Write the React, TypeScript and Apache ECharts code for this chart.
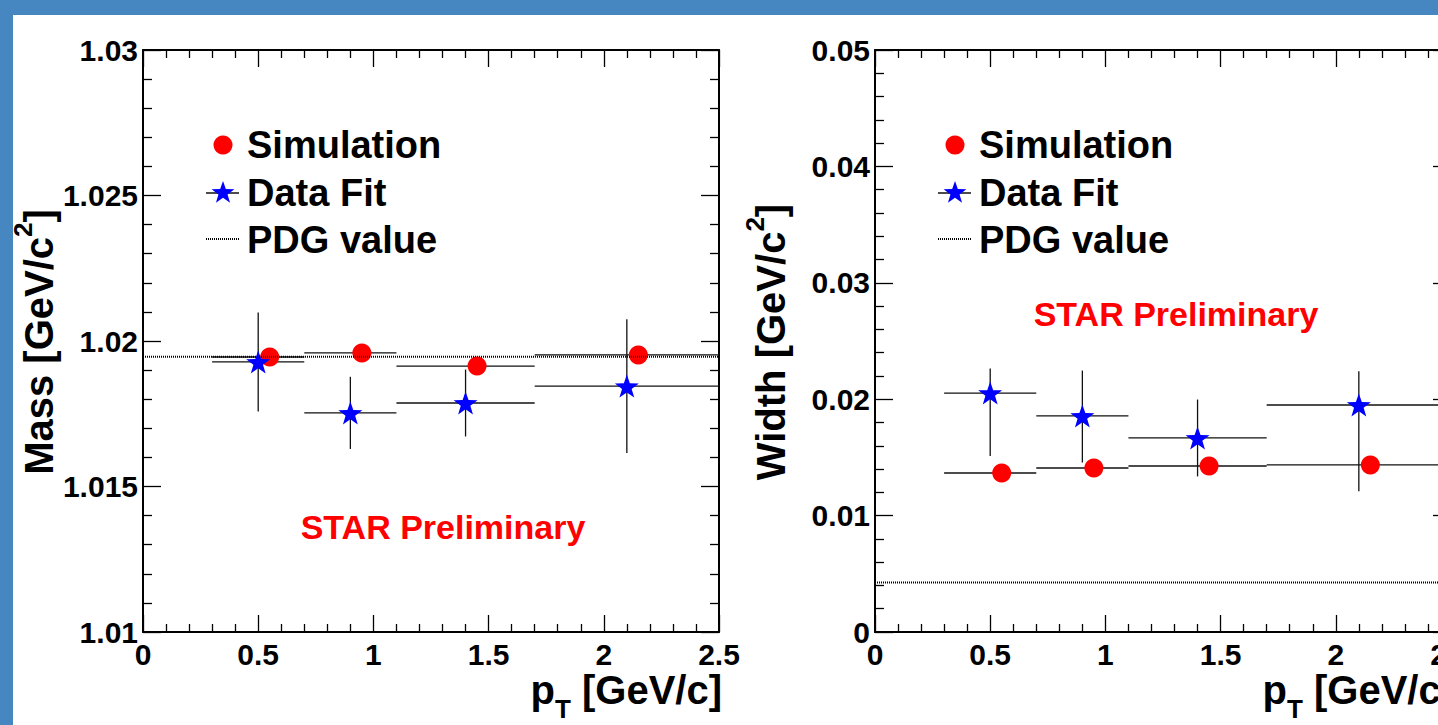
import React, { useEffect, useRef } from 'react';
import * as echarts from 'echarts';

// ---- data ----
const ptBinLow = [0.3, 0.7, 1.1, 1.7];
const ptBinHigh = [0.7, 1.1, 1.7, 2.5];
const ptDataFit = [0.5, 0.9, 1.4, 2.1];
const ptSimulation = [0.55, 0.95, 1.45, 2.15];

const massSimulation = [1.01945, 1.01959, 1.01914, 1.01952];
const massSimulationErr = [0.0001, 0.0001, 0.0001, 0.0003];
const massDataFit = [1.01928, 1.01753, 1.01787, 1.01845];
const massDataFitErrLow = [0.0017, 0.00124, 0.00115, 0.0023];
const massDataFitErrHigh = [0.0017, 0.00124, 0.00115, 0.0023];

const widthSimulation = [0.01366, 0.01409, 0.01426, 0.01435];
const widthSimulationErr = [0.0001, 0.0001, 0.0001, 0.0001];
const widthDataFit = [0.02053, 0.01856, 0.01667, 0.0195];
const widthDataFitErrLow = [0.0054, 0.004, 0.0033, 0.0074];
const widthDataFitErrHigh = [0.0021, 0.0039, 0.0033, 0.0029];

const pdgMass = 1.019461;
const pdgWidth = 0.00426;

const xRange = { min: 0, max: 2.5, step: 0.5 };
const massRange = { min: 1.01, max: 1.03, step: 0.005 };
const widthRange = { min: 0, max: 0.05, step: 0.01 };

const legendLabels = ['Simulation', 'Data Fit', 'PDG value'];
const watermark = 'STAR Preliminary';

// ---- styling ----
const FONT = '"Liberation Sans", Arial, Helvetica, sans-serif';
const BLUE = '#4687c2';
const STAR_PATH =
  'path://M100 0 L123.5 67.6 L195.1 69.1 L138 112.4 L158.8 180.9 L100 140 L41.2 180.9 L62 112.4 L4.9 69.1 L76.5 67.6 Z';

const VIEW_W = 1438;
const VIEW_H = 725;
const CANVAS_W = 1480;
const GRID_W = 576;
const GRID_H = 582;
const GRID_TOP = 50;
const LEFTS = [143, 875];

function starPoints(cx: number, cy: number, R: number) {
  const pts: number[][] = [];
  for (let i = 0; i < 10; i++) {
    const r = i % 2 === 0 ? R : R * 0.4;
    const a = -Math.PI / 2 + (i * Math.PI) / 5;
    pts.push([cx + r * Math.cos(a), cy + r * Math.sin(a)]);
  }
  return pts;
}

let measureCtx: CanvasRenderingContext2D | null = null;
function textWidth(t: string, size: number) {
  if (!measureCtx) measureCtx = document.createElement('canvas').getContext('2d');
  if (!measureCtx) return t.length * size * 0.6;
  measureCtx.font = `bold ${size}px ${FONT}`;
  return measureCtx.measureText(t).width;
}

function txt(text: string, x: number, y: number, size: number, extra: any = {}) {
  return {
    type: 'text',
    x,
    y,
    style: {
      text,
      fontSize: size,
      lineHeight: Math.round(size * 0.9),
      fontWeight: 'bold',
      fontFamily: FONT,
      fill: extra.fill || '#000',
      align: extra.align || 'left',
      verticalAlign: 'middle',
    },
  };
}

function axisCommon(show: boolean, pos: string, range: any, tickLen: number, minorLen: number, margin: number, fmt: (v: number) => string) {
  return {
    type: 'value',
    position: pos,
    min: range.min,
    max: range.max,
    interval: range.step,
    axisLine: { show: true, onZero: false, lineStyle: { color: '#000', width: 2 } },
    axisTick: { show: true, inside: true, length: tickLen, lineStyle: { color: '#000', width: 1.3 } },
    minorTick: { show: true, splitNumber: 5, length: minorLen, lineStyle: { color: '#000', width: 1.3 } },
    splitLine: { show: false },
    minorSplitLine: { show: false },
    axisLabel: {
      show,
      margin,
      formatter: fmt,
      color: '#000',
      fontSize: 30,
      lineHeight: 26,
      fontWeight: 'bold',
      fontFamily: FONT,
    },
  };
}

const fmtNum = (v: number) => String(+Number(v).toFixed(4));

function errorBarSeries(gi: number, xs: number[], ys: number[], lo: number[], hi: number[]) {
  return {
    type: 'custom',
    xAxisIndex: gi * 2,
    yAxisIndex: gi * 2,
    silent: true,
    encode: { x: 0, y: 1 },
    data: xs.map((x, i) => [x, ys[i], ptBinLow[i], ptBinHigh[i], ys[i] - lo[i], ys[i] + hi[i]]),
    renderItem: (params: any, api: any) => {
      const x = api.value(0);
      const y = api.value(1);
      const pL = api.coord([api.value(2), y]);
      const pR = api.coord([api.value(3), y]);
      const pB = api.coord([x, api.value(4)]);
      const pT = api.coord([x, api.value(5)]);
      const st = { stroke: '#111', lineWidth: 1.3 };
      return {
        type: 'group',
        children: [
          { type: 'line', shape: { x1: pL[0], y1: pL[1], x2: pR[0], y2: pR[1] }, style: st },
          { type: 'line', shape: { x1: pB[0], y1: pB[1], x2: pT[0], y2: pT[1] }, style: st },
        ],
      };
    },
  };
}

function panelSeries(gi: number, sim: number[], simErr: number[], fit: number[], fitLo: number[], fitHi: number[], pdg: number) {
  return [
    {
      type: 'line',
      xAxisIndex: gi * 2,
      yAxisIndex: gi * 2,
      silent: true,
      symbol: 'none',
      data: [[xRange.min, pdg], [xRange.max, pdg]],
      lineStyle: { color: '#000', width: 2, type: [1, 1] },
    },
    errorBarSeries(gi, ptSimulation, sim, simErr, simErr),
    errorBarSeries(gi, ptDataFit, fit, fitLo, fitHi),
    {
      type: 'scatter',
      xAxisIndex: gi * 2,
      yAxisIndex: gi * 2,
      silent: true,
      symbol: 'circle',
      symbolSize: 19,
      itemStyle: { color: '#ff0000', opacity: 1 },
      data: ptSimulation.map((x, i) => [x, sim[i]]),
    },
    {
      type: 'scatter',
      xAxisIndex: gi * 2,
      yAxisIndex: gi * 2,
      silent: true,
      symbol: STAR_PATH,
      symbolSize: [24, 23],
      itemStyle: { color: '#0000ff', opacity: 1 },
      data: ptDataFit.map((x, i) => [x, fit[i]]),
    },
  ];
}

function panelGraphics(gi: number, yTitle: string, starPos: number[]) {
  const off = LEFTS[gi] - LEFTS[0];
  const els: any[] = [];
  // legend
  els.push({ type: 'circle', shape: { cx: 223 + off, cy: 145, r: 9.5 }, style: { fill: '#ff0000' } });
  els.push(txt(legendLabels[0], 247 + off, 145, 38));
  els.push({ type: 'line', shape: { x1: 206 + off, y1: 193, x2: 239 + off, y2: 193 }, style: { stroke: '#111', lineWidth: 1.3 } });
  els.push({ type: 'polygon', shape: { points: starPoints(223 + off, 193, 12) }, style: { fill: '#0000ff' } });
  els.push(txt(legendLabels[1], 247 + off, 193, 38));
  els.push({ type: 'line', shape: { x1: 206 + off, y1: 239, x2: 239 + off, y2: 239 }, style: { stroke: '#000', lineWidth: 2, lineDash: [1, 1] } });
  els.push(txt(legendLabels[2], 247 + off, 240, 38));
  // watermark
  els.push(txt(watermark, starPos[0], starPos[1], 34, { fill: '#ff0000', align: 'center' }));
  // x title  p_T [GeV/c]
  const big = 40;
  const small = 26;
  const wp = textWidth('p', big);
  const wT = textWidth('T', small);
  const wRest = textWidth(' [GeV/c]', big);
  const right = 722 + off;
  const x0 = right - (wp + wT + wRest);
  els.push(txt('p', x0, 690, big));
  els.push(txt('T', x0 + wp, 709, small));
  els.push(txt(' [GeV/c]', x0 + wp + wT, 690, big));
  // y title  (rotated)
  const wA = textWidth(yTitle + ' [GeV/c', big);
  const wS = textWidth('2', small);
  const wB = textWidth(']', big);
  const L = wA + wS + wB;
  els.push({
    type: 'group',
    x: 39 + off,
    y: 342,
    rotation: Math.PI / 2,
    children: [
      txt(yTitle + ' [GeV/c', -L / 2, 0, big),
      txt('2', -L / 2 + wA, -16, small),
      txt(']', -L / 2 + wA + wS, 0, big),
    ],
  });
  return els;
}

export default function App() {
  const ref = useRef<HTMLDivElement>(null);
  useEffect(() => {
    if (!ref.current) return;
    const chart = echarts.init(ref.current, undefined, { renderer: 'svg' });
    const grids = LEFTS.map((l) => ({ left: l, top: GRID_TOP, width: GRID_W, height: GRID_H, containLabel: false }));
    const xAxis: any[] = [];
    const yAxis: any[] = [];
    [0, 1].forEach((gi) => {
      const yr = gi === 0 ? massRange : widthRange;
      xAxis.push({ gridIndex: gi, ...axisCommon(true, 'bottom', xRange, 17, 8, 9, fmtNum) });
      xAxis.push({ gridIndex: gi, ...axisCommon(false, 'top', xRange, 17, 8, 8, fmtNum) });
      yAxis.push({ gridIndex: gi, ...axisCommon(true, 'left', yr, 18, 9, 5, fmtNum) });
      yAxis.push({ gridIndex: gi, ...axisCommon(false, 'right', yr, 18, 9, 5, fmtNum) });
    });
    chart.setOption({
      animation: false,
      backgroundColor: '#ffffff',
      grid: grids,
      xAxis,
      yAxis,
      series: [
        ...panelSeries(0, massSimulation, massSimulationErr, massDataFit, massDataFitErrLow, massDataFitErrHigh, pdgMass),
        ...panelSeries(1, widthSimulation, widthSimulationErr, widthDataFit, widthDataFitErrLow, widthDataFitErrHigh, pdgWidth),
      ],
      graphic: [
        { type: 'rect', shape: { x: 0, y: 0, width: CANVAS_W, height: 15 }, style: { fill: BLUE } },
        { type: 'rect', shape: { x: 0, y: 0, width: 13, height: VIEW_H }, style: { fill: BLUE } },
        ...panelGraphics(0, 'Mass', [443, 527]),
        ...panelGraphics(1, 'Width', [1176, 314]),
      ],
    });
    return () => chart.dispose();
  }, []);
  return (
    <div style={{ position: 'fixed', left: 0, top: 0, width: VIEW_W, height: VIEW_H, overflow: 'hidden' }}>
      <div ref={ref} style={{ width: CANVAS_W, height: VIEW_H }} />
    </div>
  );
}
